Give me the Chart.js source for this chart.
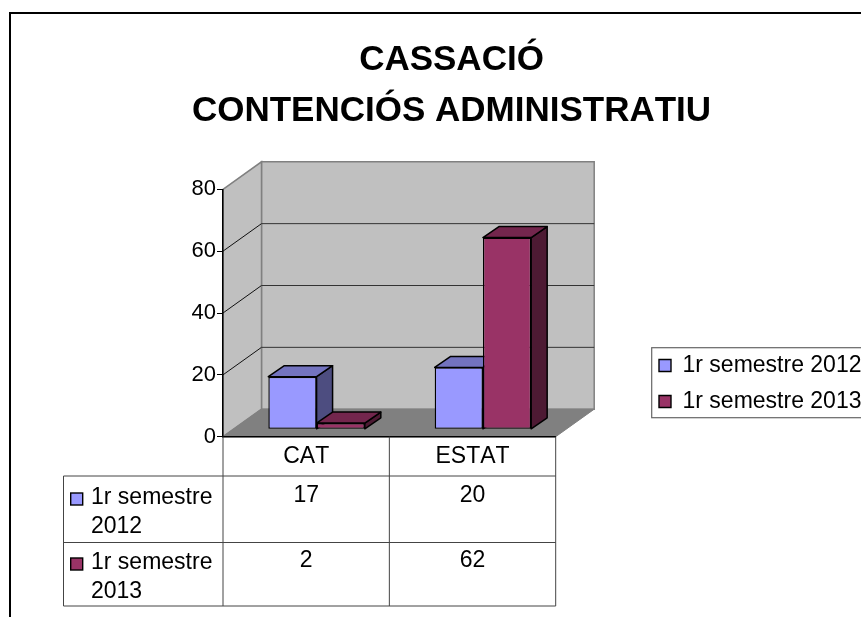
<!DOCTYPE html>
<html><head><meta charset="utf-8">
<style>html,body{margin:0;padding:0;background:#fff;overflow:hidden}canvas{display:block}</style>
<script src="https://cdn.jsdelivr.net/npm/chart.js@4"></script>
</head><body><canvas id="c" width="861" height="617"></canvas>
<script>
const titleLines = ["CASSACIÓ", "CONTENCIÓS ADMINISTRATIU"];
const categories = ["CAT", "ESTAT"];
const seriesLabels = ["1r semestre 2012", "1r semestre 2013"];
const series2012 = [17, 20];
const series2013 = [2, 62];
const FONT = "'Liberation Sans', Arial, sans-serif";
const TXT = 23;
const wallDX = 38.5, wallDY = 27.5, barShiftX = 10.4, barShiftY = 7.4, barDX = 16, barDY = 11;
const faces = [{top:'#7373BF', side:'#4D4D80'},{top:'#73264D', side:'#4D1A33'}];

function poly(ctx, pts, fill, stroke, lw){
  ctx.beginPath(); pts.forEach((p,i)=> i?ctx.lineTo(p[0],p[1]):ctx.moveTo(p[0],p[1])); ctx.closePath();
  if(fill){ctx.fillStyle=fill;ctx.fill();}
  if(stroke){ctx.strokeStyle=stroke;ctx.lineWidth=lw;ctx.stroke();}
}
function line(ctx,x1,y1,x2,y2,c,w){ctx.strokeStyle=c;ctx.lineWidth=w;ctx.beginPath();ctx.moveTo(x1,y1);ctx.lineTo(x2,y2);ctx.stroke();}

const scene = {
  id:'scene',
  afterLayout(chart){
    chart.titleBlock.left = 0; chart.titleBlock.right = 903;
    const lg = chart.legend;
    lg.left = 646; lg.right = lg.left + lg.width; lg.top = 341; lg.bottom = lg.top + lg.height;
  },
  beforeDraw(chart){
    const {ctx, scales:{x,y}} = chart;
    ctx.fontKerning='none';
    ctx.save();
    ctx.fillStyle='#fff'; ctx.fillRect(0,0,chart.width,chart.height);
    ctx.strokeStyle='#000'; ctx.lineWidth=2; ctx.strokeRect(10,13,1100,1000);
    const L=x.left,R=x.right,B=y.getPixelForValue(0),T=y.getPixelForValue(80);
    poly(ctx,[[L+wallDX,T-wallDY],[R+wallDX,T-wallDY],[R+wallDX,B-wallDY],[L+wallDX,B-wallDY]],'#C0C0C0','#808080',1.5);
    poly(ctx,[[L,T],[L+wallDX,T-wallDY],[L+wallDX,B-wallDY],[L,B]],'#C0C0C0','#808080',1.5);
    poly(ctx,[[L,B],[L+wallDX,B-wallDY],[R+wallDX,B-wallDY],[R,B]],'#808080','#808080',1);
    y.ticks.forEach(t=>{
      if(t.value===0||t.value===80) return;
      const p=y.getPixelForValue(t.value);
      line(ctx,L,p,L+wallDX,p-wallDY,'#111',1);
      line(ctx,L+wallDX,p-wallDY,R+wallDX,p-wallDY,'#333',1);
    });
    ctx.restore();
  },
  beforeDatasetsDraw(chart){
    const ctx=chart.ctx;
    ctx.save();
    ctx.translate(barShiftX,-barShiftY);
    [0,1].forEach(ds=>{
      chart.getDatasetMeta(ds).data.forEach(el=>{
        const l=el.x-el.width/2,r=el.x+el.width/2,t=el.y,b=el.base;
        ctx.lineJoin='round';
        poly(ctx,[[r,t],[r+barDX,t-barDY],[r+barDX,b-barDY],[r,b]],faces[ds].side,'#000',1.5);
        poly(ctx,[[l,t],[l+barDX,t-barDY],[r+barDX,t-barDY],[r,t]],faces[ds].top,'#000',1.5);
      });
    });
  },
  afterDatasetsDraw(chart){ chart.ctx.restore(); },
  afterDraw(chart){
    const {ctx, scales:{x,y}} = chart;
    ctx.save();
    const B=y.getPixelForValue(0), gc='#444';
    const colL=63.5, L=x.left, R=x.right, M=(x.getPixelForValue(0)+x.getPixelForValue(1))/2;
    const rows=[476,542.5,606];
    const boxOff=[17,15.5], line1Off=[28,26.5], line2Off=[57,55.2], valOff=[26.3,24.8];
    rows.forEach(r=>line(ctx,colL,r,R,r,gc,1));
    line(ctx,colL,rows[0],colL,rows[2],gc,1);
    line(ctx,L,B,L,rows[2],gc,1);
    line(ctx,M,B,M,rows[2],gc,1);
    line(ctx,R,B,R,rows[2],gc,1);
    ctx.font=TXT+'px '+FONT; ctx.textBaseline='alphabetic';
    [series2012,series2013].forEach((vals,i)=>{
      const top=rows[i];
      const lab=seriesLabels[i], sp=lab.lastIndexOf(' ');
      ctx.fillStyle=chart.data.datasets[i].backgroundColor;
      ctx.fillRect(70.7,top+boxOff[i],12,12);
      ctx.strokeStyle='#000'; ctx.lineWidth=1.4; ctx.strokeRect(70.7,top+boxOff[i],12,12);
      ctx.fillStyle='#000'; ctx.textAlign='left';
      ctx.fillText(lab.slice(0,sp),91,top+line1Off[i]);
      ctx.fillText(lab.slice(sp+1),91,top+line2Off[i]);
      ctx.textAlign='center';
      vals.forEach((v,j)=>ctx.fillText(String(v),x.getPixelForValue(j),top+valOff[i]));
    });
    ctx.strokeStyle='#666'; ctx.lineWidth=1.2; ctx.strokeRect(651.7,347.7,260,70);
    ctx.restore();
  }
};

new Chart(document.getElementById('c'),{
  type:'bar',
  data:{labels:categories,datasets:[
    {label:seriesLabels[0],data:series2012,backgroundColor:'#9999FF',borderColor:'#000',borderWidth:1.4,borderSkipped:false},
    {label:seriesLabels[1],data:series2013,backgroundColor:'#993366',borderColor:'#000',borderWidth:1.4,borderSkipped:false}
  ]},
  options:{
    responsive:false,animation:false,
    layout:{padding:{left:0,right:305.3,top:0,bottom:0}},
    datasets:{bar:{categoryPercentage:0.58,barPercentage:1}},
    scales:{
      x:{grid:{display:false},border:{display:true,color:'#000',width:1.5},
        ticks:{color:'#000',font:{family:FONT,size:TXT},padding:-2},
        afterFit(s){s.height=180.3;}},
      y:{min:0,max:80,grid:{drawOnChartArea:false,color:'#000',tickLength:6},
        border:{display:true,color:'#000',width:1.5},
        ticks:{stepSize:20,color:'#000',font:{family:FONT,size:22},padding:1},
        afterFit(s){s.width=223;}}
    },
    plugins:{
      title:{display:true,text:titleLines,color:'#000',font:{family:FONT,size:35,weight:'bold',lineHeight:'51px'},padding:{top:35,bottom:52.3}},
      legend:{position:'chartArea',align:'start',labels:{color:'#000',font:{family:FONT,size:TXT},boxWidth:12,boxHeight:12,padding:13}},
      tooltip:{enabled:false}
    }
  },
  plugins:[scene]
});
</script></body></html>
